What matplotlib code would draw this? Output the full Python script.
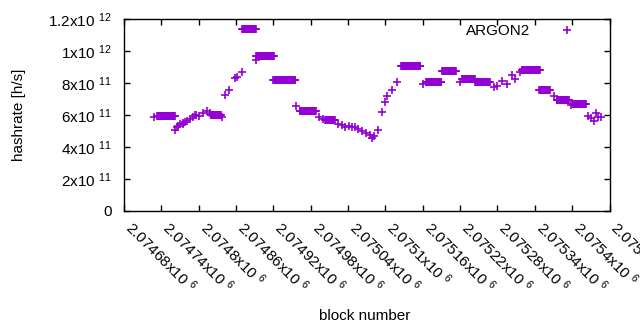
import numpy as np
import matplotlib.pyplot as plt

plt.rcParams['font.family'] = ['Liberation Sans', 'DejaVu Sans']
plt.rcParams['mathtext.fontset'] = 'custom'
plt.rcParams['mathtext.rm'] = 'Liberation Sans'
plt.rcParams['mathtext.it'] = 'Liberation Sans:italic'

# runs of blocks with the same hashrate (units of 1e11 h/s)
seg_start = [2074733, 2074819, 2074870, 2074892, 2074920, 2074962, 2075003,
             2075125, 2075165, 2075191, 2075223, 2075244, 2075319, 2075347,
             2075375, 2075401]
seg_end = [2074762, 2074836, 2074892, 2074921, 2074955, 2074988, 2075019,
           2075156, 2075190, 2075213, 2075244, 2075268, 2075348, 2075364,
           2075395, 2075422]
seg_value = [5.95, 6.03, 11.37, 9.70, 8.18, 6.23, 5.66,
             9.05, 8.05, 8.74, 8.24, 8.09, 8.80, 7.55,
             6.94, 6.67]

# single blocks
pt_block = [2074729, 2074762, 2074765, 2074767, 2074770, 2074774, 2074775,
            2074778, 2074781, 2074786, 2074791, 2074794, 2074796, 2074801,
            2074807, 2074813, 2074818, 2074837,
            2074842, 2074849, 2074858, 2074861, 2074869, 2074892,
            2074957, 2074994, 2074999, 2075024, 2075030, 2075035, 2075042,
            2075047, 2075051, 2075056, 2075062, 2075069, 2075075, 2075078,
            2075082, 2075088, 2075094, 2075099, 2075102, 2075110, 2075118,
            2075161, 2075220, 2075274, 2075280, 2075287, 2075295, 2075303,
            2075308, 2075316,
            2075371, 2075398, 2075425, 2075431, 2075435, 2075439, 2075442,
            2075446]
pt_value = [5.88, 5.06, 5.23, 5.31, 5.44, 5.44, 5.48,
            5.55, 5.62, 5.75, 5.89, 6.00, 6.02, 5.94,
            6.11, 6.25, 6.11, 5.89,
            7.26, 7.55, 8.30, 8.40, 8.70, 9.45,
            6.58, 5.89, 5.75, 5.42, 5.35, 5.27, 5.31,
            5.27, 5.23, 5.15, 5.02, 4.87, 4.73, 4.56,
            4.70, 5.06, 6.17, 6.80, 7.19, 7.57, 8.09,
            7.92, 8.09, 7.74, 7.80, 8.13, 7.92, 8.51,
            8.26, 8.71,
            7.19, 6.63, 5.94, 5.79, 5.64, 6.11, 5.89,
            5.85]

blocks = np.concatenate([np.arange(s, e + 1) for s, e in zip(seg_start, seg_end)] + [pt_block])
values = np.concatenate([np.full(e - s + 1, v) for s, e, v in zip(seg_start, seg_end, seg_value)] + [pt_value]) * 1e11

fig = plt.figure(figsize=(6.4, 3.3), dpi=100)
ax = fig.add_axes([124 / 640, 1 - 210.7 / 330, 485.5 / 640, 191.4 / 330])

ax.plot(blocks, values, '+', color='#9400d3', ms=5.5, mew=1.2, label='ARGON2')

xticks = np.arange(2074680, 2075461, 60)
ax.set_xlim(2074680, 2075460)
ax.set_xticks(xticks)
ax.set_xticklabels(['%gx10 $^{6}$' % (t / 1e6) for t in xticks])
plt.setp(ax.get_xticklabels(), rotation=-45, ha='left', va='baseline', rotation_mode='anchor')

yticks = np.arange(0, 1.21e12, 2e11)
ylabels = ['0', '2x10 $^{11}$', '4x10 $^{11}$', '6x10 $^{11}$', '8x10 $^{11}$', '1x10 $^{12}$', '1.2x10 $^{12}$']
ax.set_ylim(0, 1.2e12)
ax.set_yticks(yticks)
ax.set_yticklabels(ylabels)

ax.tick_params(direction='in', length=4, width=1, top=True, right=True, labelsize=11, color='black')
ax.tick_params(axis='y', pad=9)
ax.tick_params(axis='x', pad=13)
for sp in ax.spines.values():
    sp.set_linewidth(1)

fig.text(19 / 640, 1 - 115 / 330, 'hashrate [h/s]', rotation=90, ha='center', va='center', fontsize=11)
fig.text(365 / 640, 1 - 316 / 330, 'block number', ha='center', va='center', fontsize=11)

ax.legend(loc='upper right', bbox_to_anchor=(582 / 640, 1 - 24 / 330), bbox_transform=fig.transFigure,
          frameon=False, markerfirst=False, numpoints=1, handletextpad=1.4, borderpad=0,
          borderaxespad=0, fontsize=11)

fig.savefig('out.png', dpi=100)
